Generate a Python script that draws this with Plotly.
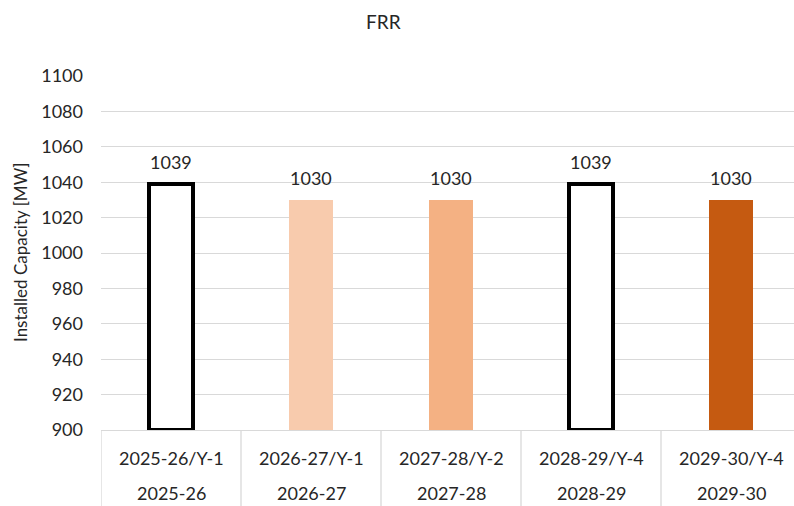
import plotly.graph_objects as go

# Capacity auctions and delivery years
auction_labels = ["2025-26/Y-1", "2026-27/Y-1", "2027-28/Y-2", "2028-29/Y-4", "2029-30/Y-4"]
delivery_years = ["2025-26", "2026-27", "2027-28", "2028-29", "2029-30"]
capacity_mw = [1039, 1030, 1030, 1039, 1030]

fill_colors = ["#FFFFFF", "#F8CBAD", "#F4B183", "#FFFFFF", "#C55A11"]
outline_widths = [4, 0, 0, 4, 0]

FONT = "Lato"
TEXT = "#262626"
GRID = "#D9D9D9"

W, H = 794, 506
ML, MR, MT, MB = 101, 0, 76, 76
plot_h = H - MT - MB
plot_w = W - ML - MR

x_idx = list(range(len(auction_labels)))

fig = go.Figure()
fig.add_trace(go.Bar(
    x=x_idx,
    y=[v - 900 for v in capacity_mw],
    base=900,
    width=0.31,
    marker=dict(color=fill_colors, line=dict(color="#000000", width=outline_widths)),
    cliponaxis=False,
    hoverinfo="skip",
))

# value labels above each bar
for i, v in zip(x_idx, capacity_mw):
    fig.add_annotation(x=i, xref="x", y=v, yref="y", yanchor="middle",
                       yshift=22, text=str(v), showarrow=False,
                       font=dict(family=FONT, size=18, color=TEXT))

# two-row category labels below the axis
for i in x_idx:
    fig.add_annotation(x=i, xref="x", y=0, yref="paper", yanchor="middle",
                       yshift=-28, text=auction_labels[i], showarrow=False,
                       font=dict(family=FONT, size=18, color=TEXT))
    fig.add_annotation(x=i, xref="x", y=0, yref="paper", yanchor="middle",
                       yshift=-63, text=delivery_years[i], showarrow=False,
                       font=dict(family=FONT, size=18, color=TEXT))

# category separators
for b in [-0.5, 0.5, 1.5, 2.5, 3.5, 4.5]:
    fig.add_shape(type="line", xref="x", yref="paper", x0=b, x1=b,
                  y0=0, y1=-MB / plot_h, line=dict(color=GRID, width=1.3))

# chart title
fig.add_annotation(xref="paper", yref="paper",
                   x=(383 - ML) / plot_w, y=1 + (MT - 22) / plot_h,
                   xanchor="center", yanchor="middle", text="FRR",
                   showarrow=False, font=dict(family=FONT, size=19, color=TEXT))

# y-axis title
fig.add_annotation(xref="paper", yref="paper",
                   x=(20 - ML) / plot_w, y=(H - MB - 253) / plot_h,
                   xanchor="center", yanchor="middle", textangle=-90,
                   text="Installed Capacity [MW]", showarrow=False,
                   font=dict(family=FONT, size=17, color=TEXT))

fig.update_layout(
    width=W, height=H,
    margin=dict(l=ML, r=MR, t=MT, b=MB),
    paper_bgcolor="white", plot_bgcolor="white",
    showlegend=False,
    bargap=0,
)

fig.update_xaxes(range=[-0.5, 4.45], showticklabels=False, showgrid=False,
                 showline=True, linecolor=GRID, linewidth=1.3, zeroline=False,
                 fixedrange=True)
fig.update_yaxes(range=[900, 1100], dtick=20, tick0=900, showgrid=True,
                 gridcolor=GRID, gridwidth=1.3, zeroline=False, showline=False,
                 tickfont=dict(family=FONT, size=18, color=TEXT),
                 ticklabelstandoff=17,
                 fixedrange=True)

fig.write_html("out.html")
